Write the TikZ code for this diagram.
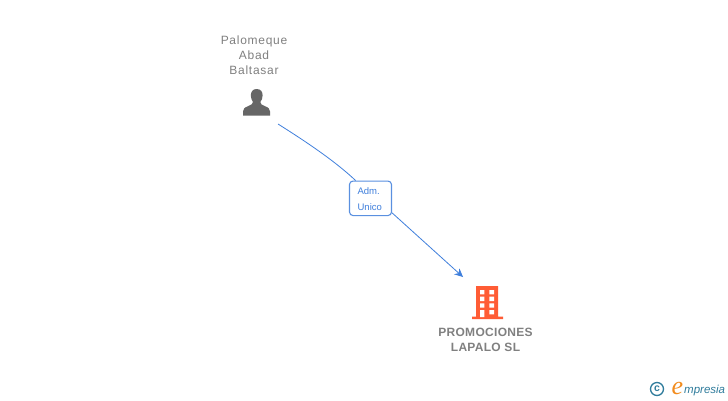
\documentclass[tikz,border=0pt]{standalone}
\usepackage{fontspec}
\setmainfont{Liberation Sans}
\newfontfamily\spaced[LetterSpace=6]{Liberation Sans}
\newfontfamily\spacedb[LetterSpace=2.5]{Liberation Sans}
\newfontfamily\logofont{Liberation Serif}
\usetikzlibrary{arrows.meta}
\definecolor{greytext}{HTML}{808080}
\definecolor{icongrey}{HTML}{666666}
\definecolor{linkblue}{HTML}{3F7FDC}
\definecolor{boxblue}{HTML}{5A90E0}
\definecolor{brick}{HTML}{FF5C35}
\definecolor{logoteal}{HTML}{2F7C9C}
\definecolor{logoorange}{HTML}{F28C1E}
\tikzset{
  x=1pt,y=-1pt,
  nametext/.style={text=greytext,font=\spaced\fontsize{12}{15}\selectfont,align=center,inner sep=0pt},
  boldtext/.style={text=greytext,font=\spacedb\bfseries\fontsize{12}{15}\selectfont,align=center,inner sep=0pt},
  rolebox/.style={draw=boxblue,fill=white,rounded corners=3.5pt,line width=1.1pt,minimum width=42pt,minimum height=34.5pt,inner sep=0pt,
    text=linkblue,font=\fontsize{9.5}{16}\selectfont,align=left},
  link/.style={draw=linkblue,line width=0.8pt},
}
\begin{document}
\begin{tikzpicture}
\useasboundingbox (0,0) rectangle (728,400);
\fill[white] (0,0) rectangle (728,400);
% person
\node[nametext] (person) at (254,55) {Palomeque\\Abad\\Baltasar};
\fill[icongrey] (256.7,89) .. controls (252.5,89) and (250.8,92) .. (250.8,95.5)
  .. controls (250.8,98.5) and (252,100.5) .. (253,102) .. controls (253,104) and (251,105) .. (248,106.2)
  .. controls (244.5,107.5) and (243,109) .. (243,111.5) -- (243,115.7) -- (270,115.7) -- (270,111.5)
  .. controls (270,109) and (268.5,107.5) .. (265,106.2) .. controls (262,105) and (260.3,104) .. (260.3,102)
  .. controls (261.5,100.5) and (262.6,98.5) .. (262.6,95.5) .. controls (262.6,92) and (261,89) .. (256.7,89) -- cycle;
% connectors
\coordinate (from) at (278,124);
\coordinate (to) at (463,277);
\node[rolebox,text depth=0pt] (role) at (370.5,198.3) {\raisebox{-1.5pt}{\hspace*{-1.5pt}Adm.}\\\raisebox{-1.5pt}{\hspace*{-1.5pt}Unico}};
\path[link] (from) .. controls (305,141) and (335,161) .. (role.130);
\draw[link,-{Stealth[length=8.5pt,width=8pt]}] (role.-34) -- (to);
% building
\fill[brick] (476,286) rectangle (498,317) (472,316.7) rectangle (503,319);
\fill[white]
  (480,290) rectangle (484.3,294.3) (489.3,290) rectangle (494,294.3)
  (480,296.7) rectangle (484.3,301) (489.3,296.7) rectangle (494,301)
  (480,303.3) rectangle (484.3,307.7) (489.3,303.3) rectangle (494,307.7)
  (480,310) rectangle (484.3,317) (489.3,310) rectangle (494,314.3);
\node[boldtext] (company) at (485.5,339.5) {PROMOCIONES\\LAPALO SL};
% logo
\draw[logoteal,line width=1.3pt] (657,389) circle (6.5);
\node[text=logoteal,font=\bfseries\fontsize{10.5}{10}\selectfont,inner sep=0pt] (copy) at (657,388.7) {c};
\node[text=logoorange,font=\logofont\itshape\fontsize{26}{26}\selectfont,inner sep=0pt,anchor=base west] (logoe) at (671.5,394.5) {e};
\node[text=logoteal,font=\fontsize{11.5}{13}\selectfont\itshape,inner sep=0pt,anchor=base west] (logotext) at (684,393) {mpresia};
\end{tikzpicture}
\end{document}
